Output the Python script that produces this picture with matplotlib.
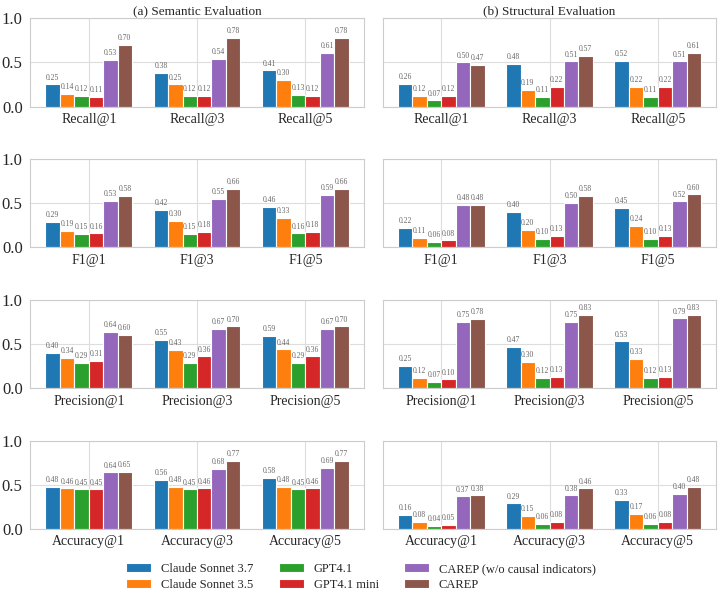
import numpy as np
import matplotlib
matplotlib.use('Agg')
import matplotlib.pyplot as plt
import seaborn as sns

models = ['Claude Sonnet 3.7', 'Claude Sonnet 3.5', 'GPT4.1', 'GPT4.1 mini',
          'CAREP (w/o causal indicators)', 'CAREP']
colors = ['#1f77b4', '#ff7f0e', '#2ca02c', '#d62728', '#9467bd', '#8c564b']
ks = ['1', '3', '5']
metrics = ['Recall', 'F1', 'Precision', 'Accuracy']

# one row per model, values for @1, @3, @5
sem_recall = [[0.25, 0.38, 0.41], [0.14, 0.25, 0.30], [0.12, 0.12, 0.13],
              [0.11, 0.12, 0.12], [0.53, 0.54, 0.61], [0.70, 0.78, 0.78]]
sem_f1 = [[0.29, 0.42, 0.46], [0.19, 0.30, 0.33], [0.15, 0.15, 0.16],
          [0.16, 0.18, 0.18], [0.53, 0.55, 0.59], [0.58, 0.66, 0.66]]
sem_precision = [[0.40, 0.55, 0.59], [0.34, 0.43, 0.44], [0.29, 0.29, 0.29],
                 [0.31, 0.36, 0.36], [0.64, 0.67, 0.67], [0.60, 0.70, 0.70]]
sem_accuracy = [[0.48, 0.56, 0.58], [0.46, 0.48, 0.48], [0.45, 0.45, 0.45],
                [0.45, 0.46, 0.46], [0.64, 0.68, 0.69], [0.65, 0.77, 0.77]]

str_recall = [[0.26, 0.48, 0.52], [0.12, 0.19, 0.22], [0.07, 0.11, 0.11],
              [0.12, 0.22, 0.22], [0.50, 0.51, 0.51], [0.47, 0.57, 0.61]]
str_f1 = [[0.22, 0.40, 0.45], [0.11, 0.20, 0.24], [0.06, 0.10, 0.10],
          [0.08, 0.13, 0.13], [0.48, 0.50, 0.52], [0.48, 0.58, 0.60]]
str_precision = [[0.25, 0.47, 0.53], [0.12, 0.30, 0.33], [0.07, 0.12, 0.12],
                 [0.10, 0.13, 0.13], [0.75, 0.75, 0.79], [0.78, 0.83, 0.83]]
str_accuracy = [[0.16, 0.29, 0.33], [0.08, 0.15, 0.17], [0.04, 0.06, 0.06],
                [0.05, 0.08, 0.08], [0.37, 0.38, 0.40], [0.38, 0.46, 0.48]]

semantic = [sem_recall, sem_f1, sem_precision, sem_accuracy]
structural = [str_recall, str_f1, str_precision, str_accuracy]

sns.set_style('whitegrid')
plt.rcParams['font.family'] = ['Liberation Serif', 'DejaVu Serif']

fig, axes = plt.subplots(4, 2, figsize=(7.22, 6.02), dpi=100, sharey=True)
fig.subplots_adjust(left=0.042, right=0.992, top=0.970, bottom=0.121,
                    wspace=0.057, hspace=0.59)

x = np.arange(len(ks))
width = 0.8 / len(models)

for col, data in enumerate([semantic, structural]):
    for row, metric in enumerate(metrics):
        ax = axes[row, col]
        vals = data[row]
        for i, m in enumerate(models):
            bars = ax.bar(x + (i - 2.5) * width, vals[i], width, label=m,
                          color=colors[i], edgecolor='white', linewidth=0.8)
            ax.bar_label(bars, fmt='%.2f', fontsize=5.5, color='#666666',
                         padding=2, family=['Liberation Sans Narrow', 'Liberation Serif'])
        ax.set_xticks(x)
        ax.set_xticklabels([metric + '@' + k for k in ks], fontsize=10)
        ax.set_ylim(0, 1.0)
        ax.set_yticks([0, 0.5, 1.0])
        ax.tick_params(axis='y', labelsize=12, pad=2)
        ax.tick_params(axis='x', pad=1)
        ax.grid(True, color='#dddddd')
    axes[0, col].set_title(['(a) Semantic Evaluation', '(b) Structural Evaluation'][col],
                           fontsize=9.5, pad=3)

handles, labels = axes[0, 0].get_legend_handles_labels()
fig.legend(handles, labels, loc='lower center', ncol=3, frameon=False, fontsize=9,
           bbox_to_anchor=(0.5, 0.0), columnspacing=2.0, handlelength=2.0,
           labelspacing=0.3)

fig.savefig('out.png', dpi=100)
